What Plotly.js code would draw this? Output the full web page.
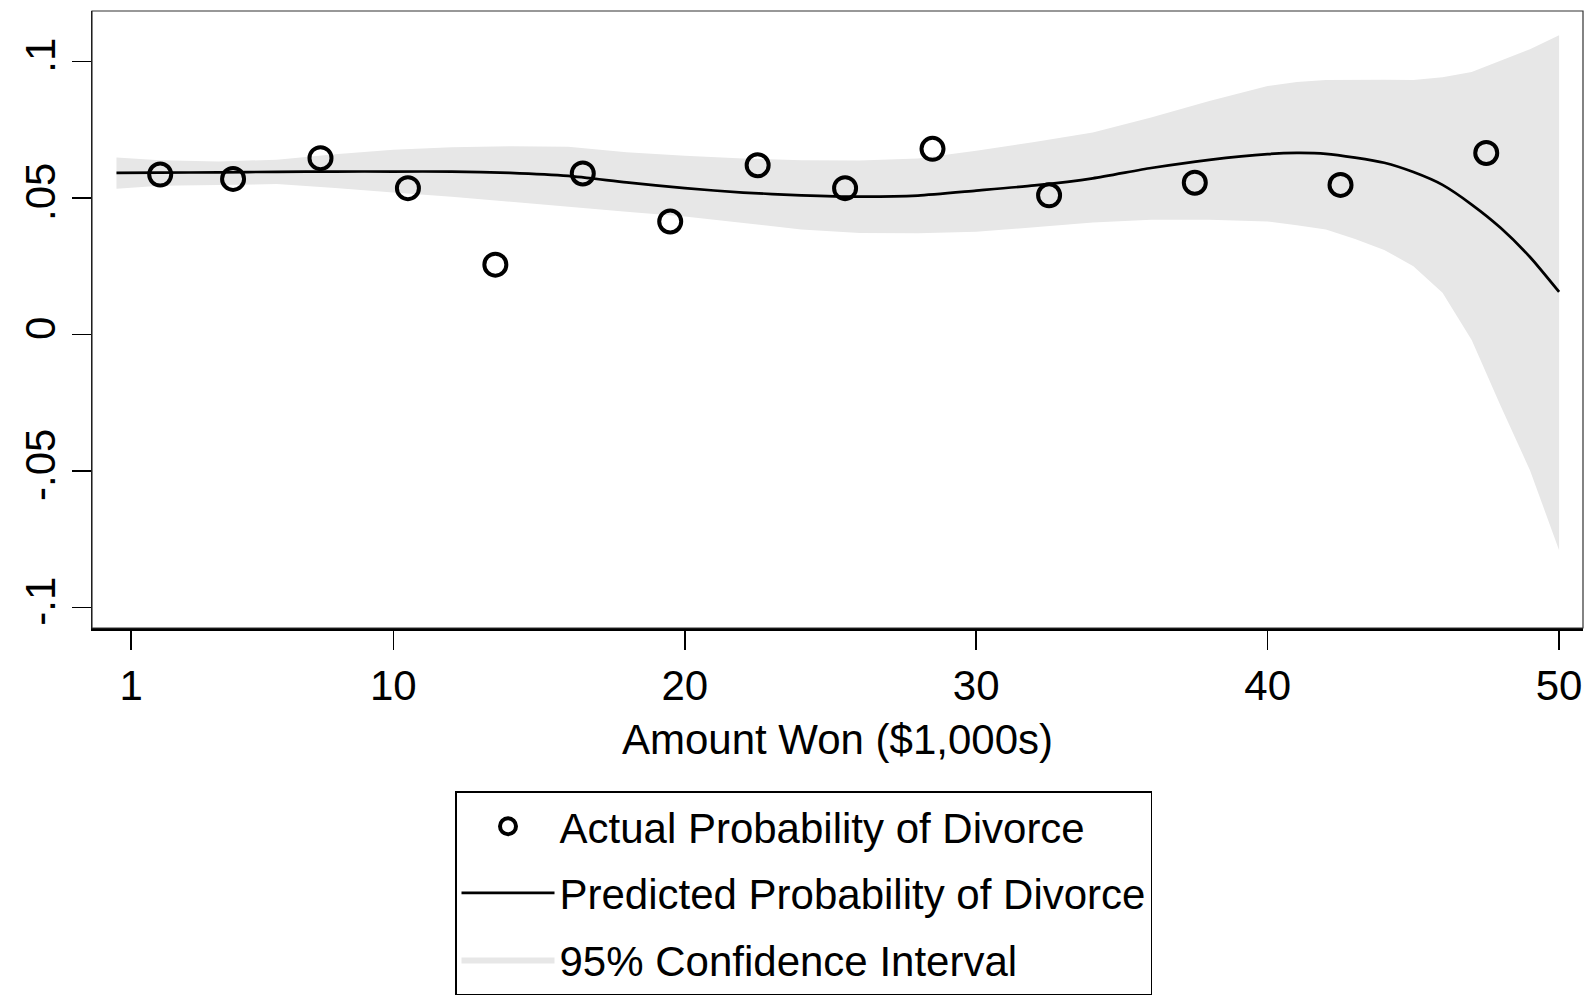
<!DOCTYPE html>
<html>
<head>
<meta charset="utf-8">
<script src="https://cdn.plot.ly/plotly-3.0.1.min.js"></script>
<style>
  html, body { margin: 0; padding: 0; background: #ffffff; }
  #chart { width: 1592px; height: 999px; }
</style>
</head>
<body>
<div id="chart"></div>
<script>
// Actual probability of divorce by bin of amount won ($1,000s)
var actualX = [2, 4.5, 7.5, 10.5, 13.5, 16.5, 19.5, 22.5, 25.5, 28.5, 32.5, 37.5, 42.5, 47.5];
var actualY = [0.0586, 0.0570, 0.0646, 0.0536, 0.0256, 0.0590, 0.0414, 0.0620, 0.0536, 0.0680, 0.0510, 0.0556, 0.0548, 0.0665];

// Predicted probability (fitted curve) and 95% confidence interval
var fitX = [0.5, 2, 4, 6, 8, 10, 12, 14, 16, 18, 20, 22, 24, 26, 28, 30, 32, 34, 36, 38, 40, 41, 42, 43, 44, 45, 46, 47, 48, 49, 50];
var fitY = [0.0592, 0.0593, 0.0594, 0.0596, 0.0597, 0.0597, 0.0597, 0.0592, 0.0581, 0.0557, 0.0536, 0.0520, 0.0510, 0.0505, 0.0509, 0.0527, 0.0546, 0.0572, 0.0610, 0.0640, 0.0661, 0.0665, 0.0662, 0.0648, 0.0629, 0.0595, 0.0548, 0.0476, 0.0390, 0.0284, 0.0156];
var ciUpper = [0.0648, 0.0638, 0.0634, 0.0640, 0.0660, 0.0677, 0.0686, 0.0690, 0.0688, 0.0668, 0.0655, 0.0645, 0.0638, 0.0637, 0.0645, 0.0673, 0.0705, 0.0740, 0.0795, 0.0855, 0.0910, 0.0925, 0.0932, 0.0933, 0.0933, 0.0932, 0.0942, 0.0962, 0.1003, 0.1045, 0.1096];
var ciLower = [0.0534, 0.0545, 0.0549, 0.0551, 0.0537, 0.0520, 0.0505, 0.0487, 0.0468, 0.0450, 0.0432, 0.0408, 0.0385, 0.0372, 0.0371, 0.0376, 0.0392, 0.0410, 0.0420, 0.0420, 0.0414, 0.0400, 0.0385, 0.0350, 0.0310, 0.0250, 0.0153, -0.0020, -0.0263, -0.0497, -0.0790];

// Axis ticks
var xTickVals = [1, 10, 20, 30, 40, 50];
var xTickText = ['1', '10', '20', '30', '40', '50'];
var yTickVals = [-0.1, -0.05, 0, 0.05, 0.1];
var yTickText = ['-.1', '-.05', '0', '.05', '.1'];

var seriesNames = ['Actual Probability of Divorce', 'Predicted Probability of Divorce', '95% Confidence Interval'];
var xTitle = 'Amount Won ($1,000s)';

var bandX = fitX.concat(fitX.slice().reverse());
var bandY = ciUpper.concat(ciLower.slice().reverse());

var FONT = '"Liberation Sans", Arial, Helvetica, sans-serif';

var traces = [
  {
    x: bandX, y: bandY,
    type: 'scatter', mode: 'lines',
    fill: 'toself', fillcolor: 'rgb(231,231,231)',
    line: { width: 0, color: 'rgb(231,231,231)' },
    name: seriesNames[2], legendgroup: 'c', legendrank: 3,
    hoverinfo: 'skip'
  },
  {
    x: fitX, y: fitY,
    type: 'scatter', mode: 'lines',
    line: { color: '#000000', width: 2.7, shape: 'spline', smoothing: 0.6 },
    name: seriesNames[1], legendgroup: 'b', legendrank: 2
  },
  {
    x: actualX, y: actualY,
    type: 'scatter', mode: 'markers',
    marker: { symbol: 'circle-open', size: 22, color: '#000000', line: { width: 4, color: '#000000' } },
    name: seriesNames[0], legendgroup: 'a', legendrank: 1
  }
];

var layout = {
  width: 1592, height: 999,
  margin: { l: 92, r: 9, t: 11, b: 371, pad: 0, autoexpand: false },
  paper_bgcolor: '#ffffff', plot_bgcolor: '#ffffff',
  font: { family: FONT, size: 42, color: '#000000' },
  showlegend: true,
  legend: {
    xref: 'container', yref: 'container',
    x: 455 / 1592, xanchor: 'left',
    y: 1 - 791 / 999, yanchor: 'top',
    bordercolor: '#000000', borderwidth: 1.5,
    bgcolor: '#ffffff',
    font: { family: FONT, size: 42, color: '#000000' },
    traceorder: 'grouped', tracegroupgap: 9,
    itemwidth: 93,
    itemclick: false, itemdoubleclick: false
  },
  xaxis: {
    range: [-0.34, 50.82],
    tickmode: 'array', tickvals: xTickVals, ticktext: xTickText,
    ticks: 'outside', ticklen: 19, tickwidth: 1.5, tickcolor: '#000000',
    showline: true, linecolor: '#000000', linewidth: 2.5,
    showgrid: false, zeroline: false,
    tickfont: { family: FONT, size: 42, color: '#000000' },
    title: { text: xTitle, font: { family: FONT, size: 42, color: '#000000' }, standoff: 17 },
    automargin: false, fixedrange: true
  },
  yaxis: {
    range: [-0.1075, 0.1185],
    tickmode: 'array', tickvals: yTickVals, ticktext: yTickText,
    tickangle: -90,
    ticks: 'outside', ticklen: 19, tickwidth: 1.5, tickcolor: '#000000',
    showline: true, linecolor: '#000000', linewidth: 1.5,
    showgrid: false, zeroline: false,
    tickfont: { family: FONT, size: 42, color: '#000000' },
    automargin: false, fixedrange: true
  },
  shapes: [
    { type: 'rect', xref: 'paper', yref: 'paper', x0: 0, x1: 1, y0: 0, y1: 1,
      line: { color: '#333333', width: 1.2 }, fillcolor: 'rgba(0,0,0,0)', layer: 'above' }
  ]
};

Plotly.newPlot('chart', traces, layout, { displayModeBar: false, staticPlot: true });
</script>
</body>
</html>
